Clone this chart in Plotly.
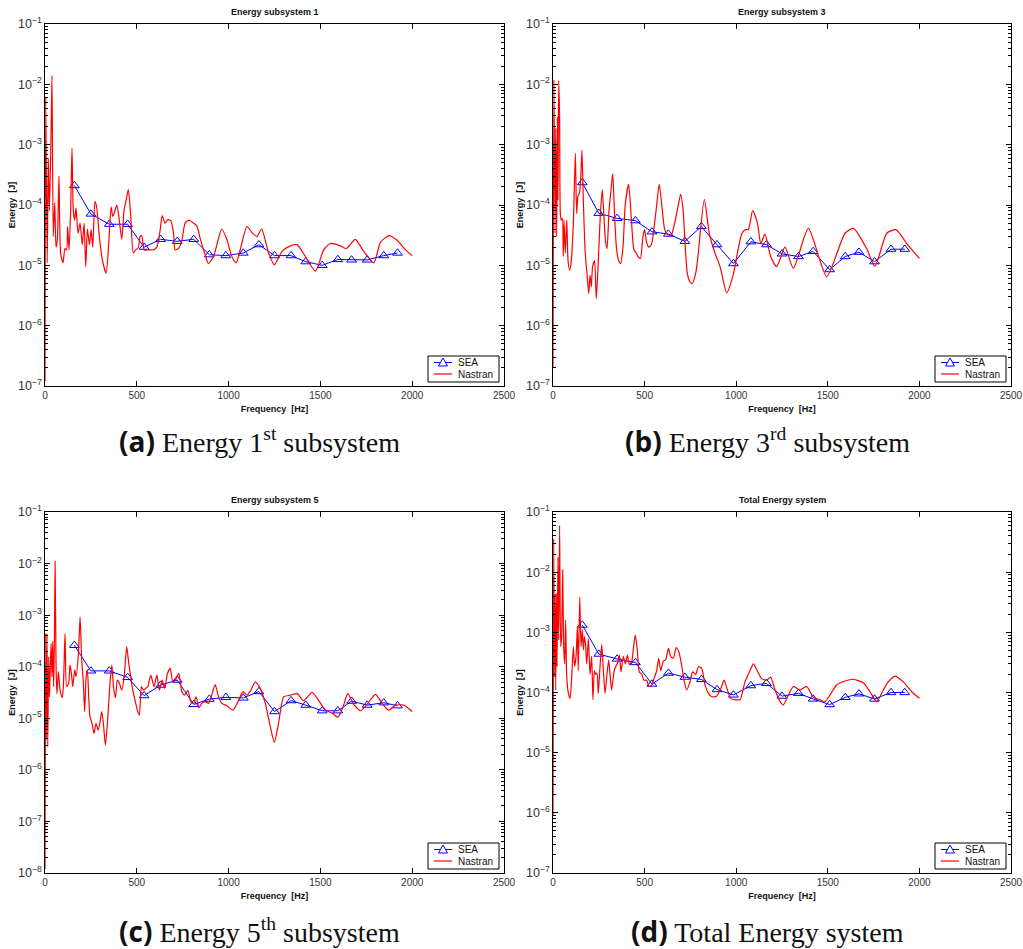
import plotly.graph_objects as go

# ---------------- data ----------------
sea_freq = [160, 250, 350, 450, 540, 630, 720, 810, 895, 985, 1080, 1165,
            1250, 1340, 1420, 1510, 1595, 1670, 1755, 1845, 1920]

sea_a = [2.1e-4, 7.1e-5, 4.8e-5, 4.8e-5, 2.0e-5, 2.7e-5, 2.5e-5, 2.7e-5, 1.5e-5, 1.45e-5,
         1.6e-5, 2.2e-5, 1.45e-5, 1.45e-5, 1.15e-5, 1.0e-5, 1.25e-5, 1.23e-5, 1.23e-5, 1.45e-5, 1.6e-5]
sea_b = [2.35e-4, 7.3e-5, 6.0e-5, 5.5e-5, 3.6e-5, 3.3e-5, 2.5e-5, 4.4e-5, 2.2e-5, 1.07e-5,
         2.46e-5, 2.2e-5, 1.55e-5, 1.4e-5, 1.7e-5, 8.5e-6, 1.4e-5, 1.65e-5, 1.15e-5, 1.85e-5, 1.85e-5]
sea_c = [2.6e-4, 8.3e-5, 8.3e-5, 6.2e-5, 2.75e-5, 4.4e-5, 5.5e-5, 1.86e-5, 2.35e-5, 2.55e-5,
         2.48e-5, 3.3e-5, 1.35e-5, 2.2e-5, 1.8e-5, 1.4e-5, 1.4e-5, 2.15e-5, 1.8e-5, 2.0e-5, 1.75e-5]
sea_d = [1.32e-3, 4.35e-4, 3.6e-4, 3.15e-4, 1.38e-4, 2.1e-4, 1.8e-4, 1.65e-4, 1.12e-4, 9.1e-5,
         1.3e-4, 1.42e-4, 8.7e-5, 9.7e-5, 7.8e-5, 6.3e-5, 8.3e-5, 9.5e-5, 7.8e-5, 1.0e-4, 1.0e-4]

nas_a_f = [0, 4, 12, 18, 24, 33, 38, 45, 53, 60, 67, 76, 85, 98, 109, 118, 123, 131, 140, 147,
           154, 162, 169, 180, 191, 203, 213, 222, 231, 242, 251, 260, 272, 282, 296, 313, 333,
           345, 360, 369, 376, 391, 402, 418, 431, 442, 454, 467, 481, 494, 509, 518, 527, 540,
           554, 572, 591, 609, 627, 638, 654, 668, 685, 700, 709, 727, 745, 763, 785, 809, 827,
           845, 872, 890, 918, 945, 963, 990, 1018, 1041, 1063, 1100, 1127, 1154, 1180, 1218,
           1249, 1291, 1337, 1373, 1418, 1473, 1518, 1554, 1609, 1641, 1690, 1736, 1791, 1827,
           1873, 1918, 1963, 2000]
nas_a_e = [1.2e-7, 6e-3, 1.1e-5, 6e-4, 8e-5, 1.5e-3, 1.4e-2, 3e-5, 1.1e-4, 2e-5, 2.6e-5, 3e-4,
           1.6e-5, 1.1e-5, 1.9e-5, 1.8e-5, 4.4e-5, 1.8e-5, 9e-5, 8.7e-4, 8.3e-5, 5.6e-5, 9e-5,
           3.4e-5, 5e-5, 2.2e-5, 5e-5, 9.5e-6, 4e-5, 2.2e-5, 3.9e-5, 2e-5, 1.15e-4, 9e-5, 3e-5,
           1.2e-5, 7.4e-6, 1.8e-5, 9.3e-5, 6.5e-5, 7.2e-5, 1e-4, 6.5e-5, 2.7e-5, 8.3e-5, 1.2e-4,
           1.8e-4, 6.5e-5, 1.6e-5, 1.8e-5, 2e-5, 3e-5, 3.1e-5, 1.8e-5, 1.8e-5, 1.8e-5, 1.8e-5,
           2e-5, 3.8e-5, 6.7e-5, 5e-5, 5.7e-5, 5.5e-5, 3.4e-5, 1.8e-5, 1.9e-5, 2.5e-5, 5e-5,
           5.6e-5, 5e-5, 4.5e-5, 2.8e-5, 1.5e-5, 1.07e-5, 1.4e-5, 2.8e-5, 4e-5, 2.7e-5, 1.4e-5,
           1.1e-5, 1.8e-5, 4.4e-5, 3.5e-5, 3e-5, 4e-5, 1.6e-5, 1.02e-5, 1.7e-5, 2.1e-5, 2.2e-5,
           1.4e-5, 8e-6, 1.8e-5, 2.3e-5, 2.1e-5, 1.9e-5, 2.7e-5, 1.7e-5, 1.1e-5, 2.4e-5, 3.1e-5,
           2.6e-5, 1.8e-5, 1.45e-5]

nas_b_f = [0, 5, 11, 15, 20, 24, 27, 31, 36, 40, 45, 51, 56, 60, 67, 75, 82, 91, 100, 111, 122,
           129, 136, 144, 151, 158, 166, 176, 187, 195, 202, 209, 216, 227, 236, 246, 258, 269,
           278, 286, 295, 306, 315, 326, 335, 346, 358, 369, 382, 395, 413, 428, 442, 455, 464,
           477, 491, 500, 511, 522, 537, 551, 564, 580, 595, 610, 628, 646, 664, 682, 697, 710,
           722, 733, 746, 760, 779, 791, 826, 853, 884, 912, 948, 984, 1012, 1030, 1048, 1066,
           1090, 1116, 1134, 1157, 1188, 1221, 1266, 1312, 1394, 1494, 1594, 1640, 1712, 1757,
           1822, 1872, 1931, 2000]
nas_b_e = [2e-7, 1.2e-2, 3.4e-5, 1.9e-3, 3e-5, 2.9e-3, 1.2e-4, 1.15e-2, 2.7e-3, 7.2e-5, 5.6e-5,
           6e-5, 1.4e-5, 5.6e-5, 1.6e-5, 5.6e-5, 1.2e-5, 8.3e-6, 1.2e-5, 5e-5, 7.2e-4, 7.2e-5,
           1.4e-4, 1.56e-4, 2.6e-4, 8.1e-4, 1.07e-4, 1.6e-5, 6.5e-6, 3.4e-6, 6.9e-6, 4.4e-6,
           9.5e-6, 1.2e-5, 2.8e-6, 9.5e-6, 6.5e-5, 1.8e-4, 6.5e-5, 2.6e-5, 1.9e-5, 8.3e-5,
           1.56e-4, 3.3e-4, 8.3e-5, 2e-5, 1.2e-5, 1.07e-5, 2e-5, 1.07e-4, 2.2e-4, 5.6e-5, 1.8e-5,
           1.6e-5, 1.4e-5, 1.3e-5, 3e-5, 3.9e-5, 2.4e-5, 2e-5, 2.2e-5, 4.1e-5, 8.8e-5, 2.2e-4,
           9.3e-5, 3.9e-5, 3.2e-5, 3.2e-5, 5e-5, 9.3e-5, 1.5e-4, 8.3e-5, 2e-5, 7.4e-6, 5.4e-6,
           5e-6, 7.4e-6, 1.4e-5, 1.24e-4, 3.4e-5, 1.6e-5, 9.5e-6, 3.5e-6, 7e-6, 1.95e-5, 3.3e-5,
           3.9e-5, 3.9e-5, 8.1e-5, 5e-5, 2.3e-5, 3.3e-5, 1.4e-5, 9.5e-6, 2.0e-5, 8.9e-6, 4.1e-5,
           6.5e-6, 3.4e-5, 4.1e-5, 1.9e-5, 9.6e-6, 3.4e-5, 3.9e-5, 2.3e-5, 1.3e-5]

nas_c_f = [0, 4, 7, 11, 15, 20, 24, 27, 33, 38, 42, 47, 51, 55, 60, 65, 73, 82, 93, 100, 109,
           118, 129, 136, 144, 151, 162, 169, 182, 191, 200, 209, 216, 224, 231, 238, 245, 256,
           267, 278, 289, 300, 309, 318, 329, 340, 354, 364, 373, 384, 394, 405, 418, 431, 445,
           456, 467, 478, 491, 503, 514, 525, 536, 547, 560, 576, 594, 609, 623, 638, 652, 667,
           682, 696, 712, 729, 745, 760, 778, 794, 809, 823, 838, 854, 872, 891, 905, 927, 945,
           963, 991, 1023, 1054, 1078, 1100, 1121, 1145, 1172, 1200, 1227, 1249, 1272, 1300,
           1336, 1373, 1409, 1455, 1491, 1527, 1564, 1595, 1624, 1649, 1678, 1718, 1758, 1800,
           1836, 1873, 1909, 1954, 2000]
nas_c_e = [1.2e-8, 4.4e-4, 3.8e-6, 4.4e-4, 2.8e-6, 1.55e-4, 2.6e-5, 5.5e-5, 2.8e-4, 6.4e-5,
           3.1e-4, 4.1e-5, 2.8e-4, 1.1e-2, 1.17e-4, 3e-5, 8e-5, 3.5e-5, 2.5e-5, 4.1e-5, 4.4e-4,
           4.1e-5, 4.8e-5, 1.07e-4, 7.4e-5, 4.1e-5, 8.7e-5, 6.4e-5, 1.8e-4, 9.3e-4, 1.35e-4,
           4.8e-5, 1.35e-5, 6.4e-5, 8.7e-5, 2.6e-5, 1.07e-5, 8e-6, 5.1e-6, 8e-6, 5.9e-6, 8.5e-6,
           1.35e-5, 8e-6, 3e-6, 8e-6, 4.8e-5, 1.07e-4, 4.1e-5, 2.5e-5, 5.5e-5, 4.8e-5, 3.5e-5,
           6.4e-5, 2.45e-4, 1.17e-4, 6.4e-5, 3.5e-5, 2.2e-5, 1.44e-5, 1.15e-5, 4.1e-5, 3.5e-5,
           3.8e-5, 4.1e-5, 6.9e-5, 4.1e-5, 6.9e-5, 3.5e-5, 5.5e-5, 3.8e-5, 7.4e-5, 9.3e-5,
           5.1e-5, 5.7e-5, 7.4e-5, 3.3e-5, 2.8e-5, 3.5e-5, 2.1e-5, 1.95e-5, 2.6e-5, 1.6e-5,
           1.95e-5, 2.1e-5, 1.95e-5, 2.6e-5, 4.5e-5, 2.6e-5, 1.95e-5, 1.75e-5, 1.44e-5, 2.2e-5,
           3.3e-5, 2.8e-5, 3.5e-5, 5.1e-5, 3.8e-5, 1.95e-5, 6.9e-6, 3.4e-6, 8e-6, 2.6e-5, 2.8e-5,
           3e-5, 2.2e-5, 3.2e-5, 2.2e-5, 1.44e-5, 1.26e-5, 1.05e-5, 1.67e-5, 3e-5, 1.95e-5,
           1.4e-5, 1.95e-5, 2.9e-5, 1.95e-5, 1.44e-5, 1.8e-5, 1.8e-5, 1.35e-5]

nas_d_f = [0, 4, 7, 11, 15, 18, 22, 27, 31, 36, 42, 47, 53, 58, 64, 69, 75, 84, 93, 102, 111,
           118, 126, 133, 138, 146, 153, 160, 166, 171, 177, 184, 193, 202, 211, 218, 226, 233,
           240, 247, 256, 266, 275, 284, 293, 304, 311, 320, 333, 342, 351, 362, 371, 384, 395,
           406, 417, 430, 439, 449, 460, 471, 484, 497, 511, 524, 539, 551, 566, 577, 588, 602,
           615, 630, 642, 657, 672, 686, 701, 715, 730, 748, 762, 779, 795, 812, 830, 848, 866,
           893, 917, 934, 952, 970, 994, 1021, 1048, 1075, 1094, 1115, 1139, 1166, 1188, 1212,
           1239, 1257, 1285, 1312, 1348, 1385, 1421, 1457, 1485, 1512, 1548, 1594, 1639, 1694,
           1730, 1767, 1803, 1830, 1867, 1912, 1958, 2000]
nas_d_e = [8.7e-7, 3.6e-2, 1.8e-4, 4.4e-3, 1.1e-4, 4.4e-3, 2.7e-4, 1.8e-2, 7.4e-4, 6e-2, 5.8e-4,
           8.5e-4, 1.1e-2, 6.1e-4, 3e-4, 1.6e-3, 1.8e-4, 9.7e-5, 8e-5, 1.8e-4, 5.8e-4, 2.7e-4,
           4e-4, 1.25e-3, 2.3e-4, 3.9e-3, 5.8e-4, 1.1e-3, 5.1e-4, 8.5e-4, 6.6e-4, 3e-4, 7.9e-4,
           2e-4, 4e-4, 7.6e-5, 2.3e-4, 2e-4, 2.1e-4, 9.7e-5, 2.5e-4, 6.3e-4, 2.3e-4, 9.7e-5,
           1.8e-4, 3.5e-4, 2e-4, 1.1e-4, 2.2e-4, 2.7e-4, 3e-4, 4.2e-4, 2.2e-4, 4e-4, 3e-4, 4.2e-4,
           2.9e-4, 3.3e-4, 5.4e-4, 9.1e-4, 5.1e-4, 2.2e-4, 2e-4, 1.6e-4, 1.6e-4, 1.26e-4, 1.33e-4,
           1.7e-4, 2.3e-4, 3.7e-4, 2.3e-4, 3.3e-4, 3.5e-4, 5.4e-4, 4e-4, 3.7e-4, 5.6e-4, 4.8e-4,
           3e-4, 1.6e-4, 1.1e-4, 1.5e-4, 2.2e-4, 2e-4, 2.7e-4, 2.5e-4, 1.33e-4, 9.7e-5, 8.5e-5,
           8.7e-5, 1.18e-4, 1.6e-4, 1.1e-4, 8e-5, 7.6e-5, 7.6e-5, 1.5e-4, 2.3e-4, 3e-4, 2.3e-4,
           1.7e-4, 1.6e-4, 1.8e-4, 1.1e-4, 7.1e-5, 6.2e-5, 9.1e-5, 1.26e-4, 1.1e-4, 1.26e-4,
           8.3e-5, 7.6e-5, 7.1e-5, 9.1e-5, 1.33e-4, 1.55e-4, 1.66e-4, 1.45e-4, 1.03e-4, 7.1e-5,
           1.1e-4, 1.5e-4, 1.87e-4, 1.5e-4, 1.03e-4, 8e-5]

titles = ["Energy subsystem 1", "Energy subsystem 3", "Energy subsystem 5", "Total Energy system"]
captions = ["Energy 1<sup>st</sup> subsystem", "Energy 3<sup>rd</sup> subsystem",
            "Energy 5<sup>th</sup> subsystem", "Total Energy system"]
letters = ["(a)", "(b)", "(c)", "(d)"]
y_ranges = [(-7, -1), (-7, -1), (-8, -1), (-7, -1)]
x_tickvals = [0, 500, 1000, 1500, 2000, 2500]
legend_names = ["SEA", "Nastran"]

# ---------------- figure ----------------
W, H = 1023, 949
panels = [  # left, right, top, bottom in pixels
    (45, 504, 24, 386),
    (553, 1011, 24, 386),
    (45, 504, 512, 873),
    (553, 1011, 512, 873),
]
caption_y = [441, 441, 931, 931]
nas = [(nas_a_f, nas_a_e), (nas_b_f, nas_b_e), (nas_c_f, nas_c_e), (nas_d_f, nas_d_e)]
seas = [sea_a, sea_b, sea_c, sea_d]
BLUE, RED = "#0000ff", "#ff0000"


def px(x):
    return x / W


def py(y):
    return 1 - y / H


SANS = "Liberation Sans, Arial, sans-serif"
fig = go.Figure()
layout = dict(width=W, height=H, margin=dict(l=0, r=0, t=0, b=0),
              paper_bgcolor="white", plot_bgcolor="white", showlegend=False,
              font=dict(family=SANS, size=10, color="#222"))
annotations = []
shapes = []

for i in range(4):
    l, r, t, b = panels[i]
    xa = "x" if i == 0 else f"x{i+1}"
    ya = "y" if i == 0 else f"y{i+1}"
    fig.add_trace(go.Scatter(x=sea_freq, y=seas[i], name=legend_names[0], mode="lines+markers",
                             line=dict(color=BLUE, width=1),
                             marker=dict(symbol="triangle-up-open", size=8.5,
                                         line=dict(color=BLUE, width=1)),
                             xaxis=xa, yaxis=ya))
    fig.add_trace(go.Scatter(x=nas[i][0], y=nas[i][1], name=legend_names[1], mode="lines",
                             line=dict(color=RED, width=1.2, shape="spline", smoothing=0.6),
                             xaxis=xa, yaxis=ya))
    axcommon = dict(showline=True, linecolor="black", linewidth=1.3, mirror="allticks",
                    ticks="inside", ticklen=5, tickcolor="black", showgrid=False,
                    zeroline=False, automargin=False, tickfont=dict(size=10, color="#333"))
    key = "" if i == 0 else str(i + 1)
    layout["xaxis" + key] = dict(domain=[px(l), px(r)], anchor=ya, range=[0, 2500],
                                 tickvals=x_tickvals, ticktext=[str(v) for v in x_tickvals],
                                 title=dict(text="<b>Frequency  [Hz]</b>", font=dict(size=9, color="#111"),
                                            standoff=5),
                                 **axcommon)
    layout["yaxis" + key] = dict(domain=[py(b), py(t)], anchor=xa, type="log",
                                 range=list(y_ranges[i]), dtick=1, exponentformat="power",
                                 minor=dict(ticks="inside", ticklen=2.5, tickcolor="black", showgrid=False),
                                 title=dict(text="<b>Energy  [J]</b>", font=dict(size=9, color="#111"),
                                            standoff=0),
                                 **axcommon)
    # panel title
    annotations.append(dict(text="<b>" + titles[i] + "</b>", x=px((l + r) / 2), y=py(t - 12),
                            xref="paper", yref="paper", showarrow=False, xanchor="center",
                            font=dict(size=9, color="#111", family=SANS), yanchor="middle"))
    # caption
    annotations.append(dict(text='<span style="font-family:Open Sans;font-weight:bold">' + letters[i] +
                                 '</span> ' + captions[i],
                            x=px(l + 214), y=py(caption_y[i]), xref="paper", yref="paper",
                            showarrow=False, xanchor="center", yanchor="middle",
                            font=dict(size=28, color="#111", family="Liberation Serif, serif")))
    # legend box (bottom-right inside the axes)
    shapes.append(dict(type="rect", xref="paper", yref="paper",
                       x0=px(r - 76), x1=px(r - 5), y0=py(b - 4), y1=py(b - 30),
                       line=dict(color="black", width=1), fillcolor="white", layer="above"))
    shapes.append(dict(type="line", xref="paper", yref="paper",
                       x0=px(r - 70), x1=px(r - 52), y0=py(b - 23.5), y1=py(b - 23.5),
                       line=dict(color=BLUE, width=1), layer="above"))
    cx, cy = r - 61, b - 23.5
    shapes.append(dict(type="path", xref="paper", yref="paper", layer="above",
                       path=f"M {px(cx)} {py(cy - 4.5)} L {px(cx + 4.5)} {py(cy + 3.5)} "
                            f"L {px(cx - 4.5)} {py(cy + 3.5)} Z",
                       line=dict(color=BLUE, width=1), fillcolor="white"))
    shapes.append(dict(type="line", xref="paper", yref="paper",
                       x0=px(r - 70), x1=px(r - 52), y0=py(b - 12), y1=py(b - 12),
                       line=dict(color=RED, width=1.2), layer="above"))
    for name, yy in zip(legend_names, [b - 23.5, b - 12]):
        annotations.append(dict(text=name, x=px(r - 48), y=py(yy), xref="paper", yref="paper",
                                showarrow=False, xanchor="left", yanchor="middle",
                                font=dict(size=10, color="#111", family=SANS)))

layout["annotations"] = annotations
layout["shapes"] = shapes
fig.update_layout(**layout)
fig.write_html("out.html")
